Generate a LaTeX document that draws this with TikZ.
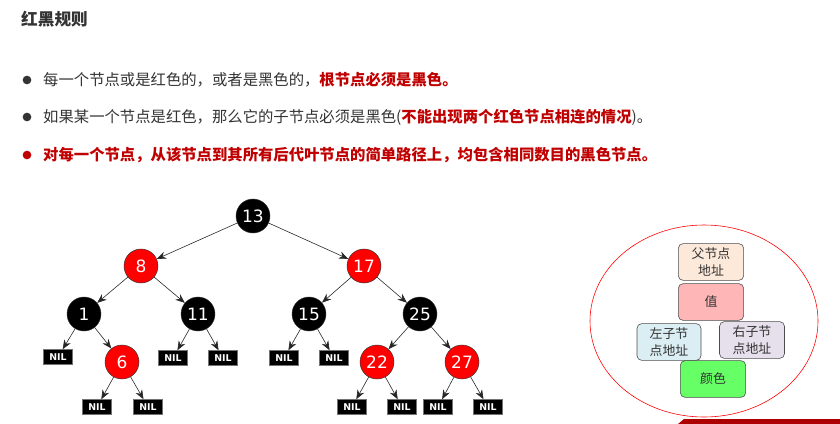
\documentclass[tikz,border=0pt]{standalone}
\usepackage{fontspec}
\setmainfont{DejaVu Sans}
\newfontfamily\cjk{Noto Sans CJK SC}
\usepackage{xcolor}
\definecolor{txtgray}{HTML}{333333}
\definecolor{rulered}{HTML}{C00000}
\definecolor{nodered}{HTML}{FF0000}
\definecolor{boxpeach}{HTML}{FDE9DA}
\definecolor{boxpink}{HTML}{FFB6B6}
\definecolor{boxblue}{HTML}{DBEEF3}
\definecolor{boxlilac}{HTML}{E5E0EC}
\definecolor{boxgreen}{HTML}{66FF66}
\usepackage{tikz}
\usetikzlibrary{shapes.geometric,arrows.meta}

\begin{document}
\begin{tikzpicture}[
  x=0.03cm, y=-0.03cm,
  rbnode/.style={
    circle, minimum size=1.02cm, inner sep=0pt,
    fill=#1, draw=black!80, line width=0.4pt,
    text=white, font=\fontsize{14.5}{14.5}\selectfont
  },
  nil/.style={
    rectangle, minimum width=0.87cm, minimum height=0.45cm, inner sep=0pt,
    fill=black, draw=black!55, line width=0.4pt,
    text=white, font=\bfseries\fontsize{8}{8}\selectfont
  },
  link/.style={-{Stealth[length=0.28cm,width=0.22cm]}, line width=0.5pt, draw=black!85},
  field/.style={
    rectangle, rounded corners=4pt,
    minimum width=1.96cm, minimum height=1.1cm, align=center,
    fill=#1, draw=black!70, line width=0.5pt,
    text=txtgray, font=\cjk\fontsize{11}{14.5}\selectfont
  },
  dot/.style={circle, minimum size=0.26cm, inner sep=0pt, fill=#1},
  rule/.style={anchor=west, inner sep=0pt, text=txtgray, font=\cjk\fontsize{13.1}{15}\selectfont}
]
\useasboundingbox (0,0) rectangle (840,424);

\node[anchor=west, inner sep=0pt, text=txtgray, font=\cjk\bfseries\fontsize{14.2}{16}\selectfont] (title) at (21,19) {红黑规则};

\node[dot=txtgray] (b1) at (27,80) {};
\node[dot=txtgray] (b2) at (27,117) {};
\node[dot=rulered] (b3) at (27,155) {};
\node[rule] (r1) at (43,80) {每一个节点或是红色的，或者是黑色的，\textcolor{rulered}{\bfseries 根节点必须是黑色。}};
\node[rule] (r2) at (43,117) {如果某一个节点是红色，那么它的子节点必须是黑色(\textcolor{rulered}{\bfseries 不能出现两个红色节点相连的情况})。};
\node[rule, text=rulered, font=\cjk\bfseries\fontsize{13.1}{15}\selectfont] (r3) at (43,155) {对每一个节点，从该节点到其所有后代叶节点的简单路径上，均包含相同数目的黑色节点。};

% tree
\node[rbnode=black] (t13) at (253,216) {13};
\node[rbnode=nodered] (t8) at (141,266) {8};
\node[rbnode=nodered] (t17) at (364,266) {17};
\node[rbnode=black] (t1) at (84,314) {1};
\node[rbnode=black] (t11) at (198,314) {11};
\node[rbnode=black] (t15) at (309,314) {15};
\node[rbnode=black] (t25) at (420,314) {25};
\node[rbnode=nodered] (t6) at (122,362) {6};
\node[rbnode=nodered] (t22) at (377,362) {22};
\node[rbnode=nodered] (t27) at (462,362) {27};

\node[nil] (n1) at (58,357) {NIL};
\node[nil] (n6a) at (97,407) {NIL};
\node[nil] (n6b) at (148,407) {NIL};
\node[nil] (n11a) at (173,358) {NIL};
\node[nil] (n11b) at (223,358) {NIL};
\node[nil] (n15a) at (284,358) {NIL};
\node[nil] (n15b) at (334,358) {NIL};
\node[nil] (n22a) at (352,407) {NIL};
\node[nil] (n22b) at (402,407) {NIL};
\node[nil] (n27a) at (438,407) {NIL};
\node[nil] (n27b) at (488,407) {NIL};

\foreach \a/\b in {t13/t8,t13/t17,t8/t1,t8/t11,t17/t15,t17/t25,
  t1/n1,t1/t6,t6/n6a,t6/n6b,t11/n11a,t11/n11b,t15/n15a,t15/n15b,
  t25/t22,t25/t27,t22/n22a,t22/n22b,t27/n27a,t27/n27b} {
  \draw[link] (\a) -- (\b);
}

% node layout
\node[ellipse, draw=red, line width=0.5pt, minimum width=6.84cm, minimum height=5.76cm] (cell) at (704,321) {};
\node[field=boxpeach] (parent) at (711,262) {父节点\\地址};
\node[field=boxpink] (value) at (711,302) {值};
\node[field=boxblue, minimum width=1.92cm] (left) at (669,342) {左子节\\点地址};
\node[field=boxlilac, minimum width=1.95cm] (right) at (752,340) {右子节\\点地址};
\node[field=boxgreen] (color) at (713,379) {颜色};

\fill[rulered!90!black] (678,424) -- (684,419) -- (840,419) -- (840,424) -- cycle;
\end{tikzpicture}
\end{document}
